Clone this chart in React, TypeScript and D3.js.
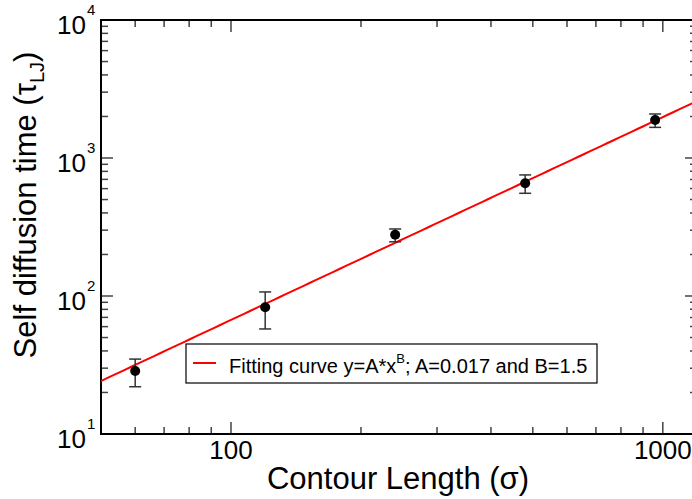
import React from "react";
import * as d3 from "d3";

const lengths = [60, 120, 240, 480, 960];
const times = [28.6, 82.8, 278, 656, 1884];
const errLow = [22.0, 57.7, 247, 555, 1667];
const errHigh = [34.9, 107, 306, 754, 2084];
const fitA = 0.077;
const fitB = 1.47;
const xTicks = [100, 1000];
const yTickExps = [1, 2, 3, 4];
const legendLabel = "Fitting curve y=A*x";
const legendRest = "; A=0.017 and B=1.5";

const W = 692, H = 499;
const L = 101, R = 697, T = 20, B = 434;
const FONT = "'Liberation Sans', Arial, sans-serif";

export default function App() {
  const x = d3.scaleLog().domain([50, 1200]).range([L, R]);
  const y = d3.scaleLog().domain([10, 10000]).range([B, T]);

  const xMinor: number[] = [];
  for (let d = 10; d <= 1000; d *= 10) for (let k = 2; k <= 9; k++) {
    const v = d * k;
    if (v > 50 && v < 1200) xMinor.push(v);
  }
  const yMinor: number[] = [];
  for (let d = 10; d < 10000; d *= 10) for (let k = 2; k <= 9; k++) yMinor.push(d * k);

  const fitPts = d3.range(0, 101).map((i) => {
    const lx = Math.log10(50) + (Math.log10(1200) - Math.log10(50)) * (i / 100);
    const xv = Math.pow(10, lx);
    return [xv, fitA * Math.pow(xv, fitB)] as [number, number];
  });
  const line = d3.line<[number, number]>().x((d) => x(d[0])).y((d) => y(d[1]));

  const tickCol = "#444";
  return (
    <svg width={W} height={H} style={{ position: "absolute", left: 0, top: 0, background: "#fff" }} fontFamily={FONT}>
      <defs>
        <clipPath id="plot"><rect x={L} y={T} width={R - L} height={B - T} /></clipPath>
      </defs>
      {xTicks.map((v) => (
        <g key={"xt" + v}>
          <line x1={x(v)} x2={x(v)} y1={B} y2={B - 12} stroke={tickCol} strokeWidth={1.5} />
          <line x1={x(v)} x2={x(v)} y1={T} y2={T + 12} stroke={tickCol} strokeWidth={1.5} />
          <text x={x(v)} y={459} textAnchor="middle" fontSize={26}>{v}</text>
        </g>
      ))}
      {xMinor.map((v) => (
        <g key={"xm" + v}>
          <line x1={x(v)} x2={x(v)} y1={B} y2={B - 7} stroke={tickCol} strokeWidth={1.5} />
          <line x1={x(v)} x2={x(v)} y1={T} y2={T + 7} stroke={tickCol} strokeWidth={1.5} />
        </g>
      ))}
      {yTickExps.map((e) => {
        const v = Math.pow(10, e);
        return (
          <g key={"yt" + e}>
            <line x1={L} x2={L + 12} y1={y(v)} y2={y(v)} stroke={tickCol} strokeWidth={1.5} />
            <line x1={R} x2={R - 12} y1={y(v)} y2={y(v)} stroke={tickCol} strokeWidth={1.5} />
            <text x={86} y={y(v) + 14} textAnchor="end" fontSize={26}>10</text>
            <text x={87} y={y(v) - 5} textAnchor="start" fontSize={15}>{e}</text>
          </g>
        );
      })}
      {yMinor.map((v) => (
        <g key={"ym" + v}>
          <line x1={L} x2={L + 7} y1={y(v)} y2={y(v)} stroke={tickCol} strokeWidth={1.5} />
          <line x1={R} x2={R - 7} y1={y(v)} y2={y(v)} stroke={tickCol} strokeWidth={1.5} />
        </g>
      ))}
      <rect x={L} y={T} width={R - L} height={B - T} fill="none" stroke="#000" strokeWidth={2} />
      <path d={line(fitPts) || ""} fill="none" stroke="#f00" strokeWidth={2} clipPath="url(#plot)" />
      {lengths.map((lv, i) => (
        <g key={"p" + i}>
          <line x1={x(lv)} x2={x(lv)} y1={y(errLow[i])} y2={y(errHigh[i])} stroke="#333" strokeWidth={1.5} />
          <line x1={x(lv) - 6} x2={x(lv) + 6} y1={y(errLow[i])} y2={y(errLow[i])} stroke="#333" strokeWidth={1.5} />
          <line x1={x(lv) - 6} x2={x(lv) + 6} y1={y(errHigh[i])} y2={y(errHigh[i])} stroke="#333" strokeWidth={1.5} />
          <circle cx={x(lv)} cy={y(times[i])} r={5} fill="#000" />
        </g>
      ))}
      <rect x={186} y={344} width={411} height={39} fill="#fff" stroke="#000" strokeWidth={1.2} />
      <line x1={193} x2={216} y1={363} y2={363} stroke="#f00" strokeWidth={2} />
      <text x={229} y={373} fontSize={20}>
        {legendLabel}
        <tspan fontSize={13} dy={-10}>B</tspan>
        <tspan dy={10}>{legendRest}</tspan>
      </text>
      <text x={398} y={489} textAnchor="middle" fontSize={31}>Contour Length (σ)</text>
      <text transform="translate(36,205) rotate(-90)" textAnchor="middle" fontSize={31}>
        Self diffusion time (τ
        <tspan fontSize={20} dy={8}>LJ</tspan>
        <tspan dy={-8}>)</tspan>
      </text>
    </svg>
  );
}
